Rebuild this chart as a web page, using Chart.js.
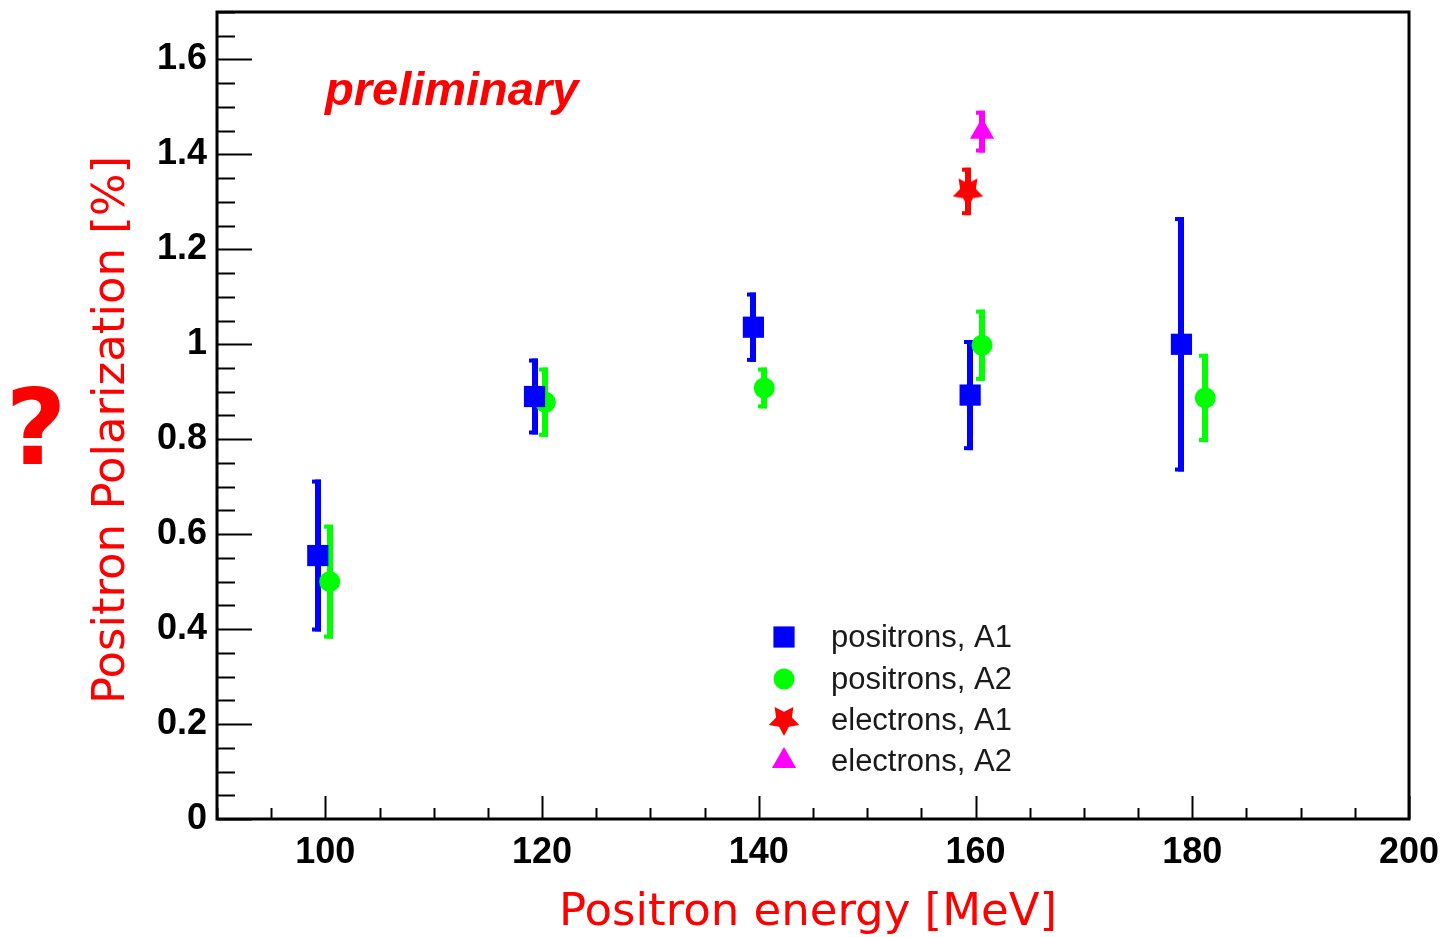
<!DOCTYPE html>
<html>
<head>
<meta charset="utf-8">
<script src="https://cdn.jsdelivr.net/npm/chart.js@4"></script>
<style>
  html, body { margin: 0; padding: 0; background: #fff; }
  #wrap { width: 1445px; height: 937px; }
</style>
</head>
<body>
<div id="wrap"><canvas id="chart"></canvas></div>
<script>
// данные
const xTicks = [100, 120, 140, 160, 180, 200];
const yTicks = [0, 0.2, 0.4, 0.6, 0.8, 1, 1.2, 1.4, 1.6];

const posA1Energy = [99.3, 119.3, 139.5, 159.5, 179.0];
const posA1Pol    = [0.555, 0.89, 1.036, 0.893, 1.0];
const posA1Err    = [0.16, 0.08, 0.073, 0.116, 0.268];

const posA2Energy = [100.4, 120.3, 140.5, 160.6, 181.2];
const posA2Pol    = [0.5, 0.878, 0.908, 0.998, 0.887];
const posA2Err    = [0.12, 0.073, 0.043, 0.075, 0.093];

const elA1Energy = [159.3];
const elA1Pol    = [1.322];
const elA1Err    = [0.05];

const elA2Energy = [160.6];
const elA2Pol    = [1.448];
const elA2Err    = [0.044];

const seriesNames = ['positrons, A1', 'positrons, A2', 'electrons, A1', 'electrons, A2'];

// звезда (ROOT marker 29, перевёрнутая)
function makeStar(size, color) {
  const c = document.createElement('canvas');
  c.width = size; c.height = size;
  const g = c.getContext('2d');
  const cx = size / 2, cy = size / 2, R = size / 2, r = R * 0.52;
  g.beginPath();
  for (let i = 0; i < 10; i++) {
    const a = Math.PI / 2 + i * Math.PI / 5;
    const rad = i % 2 === 0 ? R : r;
    const px = cx + rad * Math.cos(a), py = cy + rad * Math.sin(a);
    if (i === 0) g.moveTo(px, py); else g.lineTo(px, py);
  }
  g.closePath();
  g.fillStyle = color;
  g.fill();
  return c;
}
const starImg = makeStar(32, '#ff0000');

function pts(xs, ys, es) {
  return xs.map((x, i) => ({ x: x, y: ys[i], err: es[i] }));
}

const datasets = [
  { label: seriesNames[0], data: pts(posA1Energy, posA1Pol, posA1Err), pointStyle: 'rect', pointRadius: 15, backgroundColor: '#0000ff', borderColor: '#0000ff', borderWidth: 0 },
  { label: seriesNames[1], data: pts(posA2Energy, posA2Pol, posA2Err), pointStyle: 'circle', pointRadius: 10.5, backgroundColor: '#00ff00', borderColor: '#00ff00', borderWidth: 0 },
  { label: seriesNames[2], data: pts(elA1Energy, elA1Pol, elA1Err), pointStyle: starImg, pointRadius: 16, backgroundColor: '#ff0000', borderColor: '#ff0000', borderWidth: 0 },
  { label: seriesNames[3], data: pts(elA2Energy, elA2Pol, elA2Err), pointStyle: 'triangle', pointRadius: 14, backgroundColor: '#ff00ff', borderColor: '#ff00ff', borderWidth: 0 }
];

// планки погрешностей
const errorBars = {
  id: 'errorBars',
  beforeDatasetsDraw(chart) {
    const ctx = chart.ctx;
    const xs = chart.scales.x, ys = chart.scales.y;
    ctx.save();
    chart.data.datasets.forEach(ds => {
      ctx.fillStyle = ds.backgroundColor;
      ds.data.forEach(p => {
        const px = Math.round(xs.getPixelForValue(p.x));
        const top = ys.getPixelForValue(p.y + p.err);
        const bot = ys.getPixelForValue(p.y - p.err);
        ctx.fillRect(px - 3, top, 6, bot - top);
        ctx.fillRect(px - 6, top, 9, 4);
        ctx.fillRect(px - 6, bot - 4, 9, 4);
      });
    });
    ctx.restore();
  }
};

// рамка, засечки, подписи, легенда
const decor = {
  id: 'decor',
  afterDraw(chart) {
    const ctx = chart.ctx;
    const a = chart.chartArea;
    const xs = chart.scales.x, ys = chart.scales.y;
    ctx.save();
    ctx.strokeStyle = '#000';
    ctx.lineWidth = 2;
    // засечки по Y
    for (let v = 0; v <= 1.7001; v += 0.05) {
      const y = Math.round(ys.getPixelForValue(v)) + 0.5;
      const major = Math.abs(v / 0.2 - Math.round(v / 0.2)) < 1e-6;
      ctx.beginPath();
      ctx.moveTo(a.left, y);
      ctx.lineTo(a.left + (major ? 35 : 18), y);
      ctx.stroke();
    }
    // засечки по X
    for (let v = 90; v <= 200; v += 5) {
      const x = Math.round(xs.getPixelForValue(v)) + 0.5;
      const major = v % 20 === 0;
      ctx.beginPath();
      ctx.moveTo(x, a.bottom);
      ctx.lineTo(x, a.bottom - (major ? 23 : 11));
      ctx.stroke();
    }
    // рамка
    ctx.lineWidth = 3;
    ctx.strokeRect(a.left, a.top, a.right - a.left, a.bottom - a.top);

    // preliminary
    ctx.fillStyle = '#ff0000';
    ctx.font = 'italic bold 47px "Liberation Sans", Arial, sans-serif';
    ctx.textBaseline = 'middle';
    ctx.textAlign = 'left';
    ctx.fillText('preliminary', 325, 92);

    // легенда
    const rowsY = [637, 679, 720, 761];
    ctx.font = '31px "Liberation Sans", Arial, sans-serif';
    chart.data.datasets.forEach((ds, i) => {
      const y = rowsY[i];
      ctx.fillStyle = ds.backgroundColor;
      Chart.helpers.drawPoint(ctx, {
        pointStyle: ds.pointStyle, radius: ds.pointRadius, borderWidth: 0, rotation: 0
      }, 784, y);
      ctx.fillStyle = '#1a1a1a';
      ctx.fillText(ds.label, 831, y + 1);
    });

    // заголовки осей
    ctx.fillStyle = '#ff0000';
    ctx.textAlign = 'center';
    ctx.textBaseline = 'alphabetic';
    ctx.font = '45px "DejaVu Sans", sans-serif';
    ctx.fillText('Positron energy [MeV]', 808, 925, 500);

    ctx.save();
    ctx.translate(124, 430);
    ctx.rotate(-Math.PI / 2);
    ctx.font = '45px "DejaVu Sans", sans-serif';
    ctx.fillText('Positron Polarization [%]', 0, 0, 550);
    ctx.restore();

    ctx.font = 'bold 105px "DejaVu Sans", sans-serif';
    ctx.fillText('?', 36, 464);
    ctx.restore();
  }
};

new Chart(document.getElementById('chart'), {
  type: 'scatter',
  data: { datasets: datasets },
  options: {
    responsive: true,
    maintainAspectRatio: false,
    animation: false,
    layout: { autoPadding: false, padding: { left: 0, right: 36, top: 12, bottom: 0 } },
    plugins: { legend: { display: false }, tooltip: { enabled: false } },
    scales: {
      x: {
        type: 'linear', min: 90, max: 200,
        grid: { display: false, drawTicks: false },
        border: { display: false },
        afterBuildTicks: axis => { axis.ticks = xTicks.map(v => ({ value: v })); },
        afterFit: axis => { axis.height = 118; axis.paddingLeft = 0; axis.paddingRight = 0; },
        ticks: {
          padding: 12, color: '#000', maxRotation: 0,
          font: { family: '"Liberation Sans", Arial, sans-serif', size: 36, weight: 'bold' }
        }
      },
      y: {
        type: 'linear', min: 0, max: 1.7,
        grid: { display: false, drawTicks: false },
        border: { display: false },
        afterBuildTicks: axis => { axis.ticks = yTicks.map(v => ({ value: v })); },
        afterFit: axis => { axis.width = 217; axis.paddingTop = 0; axis.paddingBottom = 0; },
        ticks: {
          padding: 10, color: '#000',
          font: { family: '"Liberation Sans", Arial, sans-serif', size: 36, weight: 'bold' },
          callback: v => String(Number(v.toFixed(1)))
        }
      }
    }
  },
  plugins: [errorBars, decor]
});
</script>
</body>
</html>
